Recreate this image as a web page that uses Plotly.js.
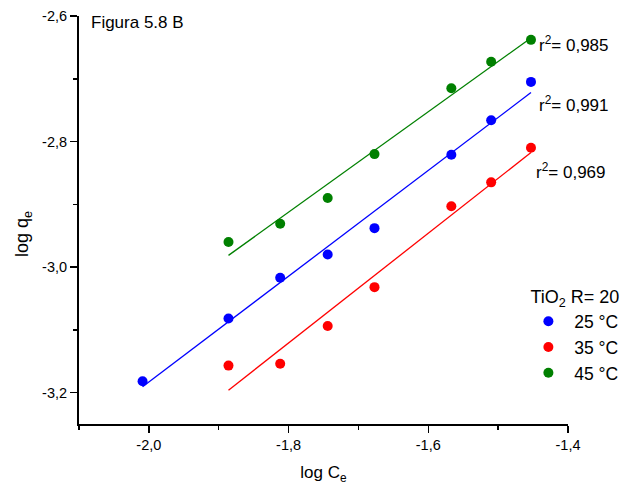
<!DOCTYPE html>
<html>
<head>
<meta charset="utf-8">
<script src="https://cdn.plot.ly/plotly-3.0.1.min.js"></script>
<style>html,body{margin:0;padding:0;background:#fff}#chart{width:635px;height:492px}</style>
</head>
<body>
<div id="chart"></div>
<script>
// Data
var logCe25 = [-2.009, -1.886, -1.812, -1.744, -1.677, -1.567, -1.510, -1.453];
var logQe25 = [-3.182, -3.082, -3.017, -2.980, -2.938, -2.821, -2.766, -2.705];
var logCe35 = [-1.886, -1.812, -1.744, -1.677, -1.567, -1.510, -1.453];
var logQe35 = [-3.157, -3.154, -3.094, -3.032, -2.903, -2.865, -2.810];
var logCe45 = [-1.886, -1.812, -1.744, -1.677, -1.567, -1.510, -1.453];
var logQe45 = [-2.960, -2.931, -2.890, -2.820, -2.715, -2.673, -2.638];
var seriesNames = ['25 °C', '35 °C', '45 °C'];
var r2Labels = ['r<sup>2</sup>= 0,991', 'r<sup>2</sup>= 0,969', 'r<sup>2</sup>= 0,985'];
var xTickVals = [-2.0, -1.8, -1.6, -1.4];
var xTickText = ['-2,0', '-1,8', '-1,6', '-1,4'];
var xMinorVals = [-2.1, -1.9, -1.7, -1.5];
var yTickVals = [-3.2, -3.0, -2.8, -2.6];
var yTickText = ['-3,2', '-3,0', '-2,8', '-2,6'];
var yMinorVals = [-3.1, -2.9, -2.7];

var colors = ['#0000ff', '#ff0000', '#008000'];
var xs = [logCe25, logCe35, logCe45];
var ys = [logQe25, logQe35, logQe45];

function fit(x, y) {
  var n = x.length, mx = 0, my = 0;
  for (var i = 0; i < n; i++) { mx += x[i]; my += y[i]; }
  mx /= n; my /= n;
  var sxy = 0, sxx = 0;
  for (var j = 0; j < n; j++) { sxy += (x[j]-mx)*(y[j]-my); sxx += (x[j]-mx)*(x[j]-mx); }
  var b = sxy / sxx, a = my - b*mx;
  var x0 = Math.min.apply(null, x), x1 = Math.max.apply(null, x);
  return {x: [x0, x1], y: [a + b*x0, a + b*x1]};
}

var FONT = '"Liberation Sans", Arial, sans-serif';
var traces = [];
for (var k = 0; k < 3; k++) {
  var f = fit(xs[k], ys[k]);
  traces.push({x: f.x, y: f.y, mode: 'lines', line: {color: colors[k], width: 1.3}, showlegend: false, hoverinfo: 'skip'});
}
for (var k2 = 0; k2 < 3; k2++) {
  traces.push({x: xs[k2], y: ys[k2], mode: 'markers', name: '\u2004' + seriesNames[k2],
    marker: {color: colors[k2], size: 10}});
}

var annYs = [-2.7405, -2.8474, -2.6447];
var annXs = [-1.4448, -1.449, -1.4448];
var annotations = [{
  text: 'Figura 5.8 B', xref: 'paper', yref: 'paper', x: 0.02, y: 0.985,
  xanchor: 'left', yanchor: 'middle', showarrow: false, font: {family: FONT, size: 17, color: '#000'}
}, {
  text: 'log q<sub>e</sub>', xref: 'paper', yref: 'paper', x: -0.1131, y: 0.465,
  xanchor: 'center', yanchor: 'middle', textangle: -90, showarrow: false,
  font: {family: FONT, size: 18, color: '#000'}
}];
for (var m = 0; m < 3; m++) {
  annotations.push({text: r2Labels[m], x: annXs[m], y: annYs[m], xref: 'x', yref: 'y',
    xanchor: 'left', yanchor: 'middle', showarrow: false, font: {family: FONT, size: 17, color: '#000'}});
}

var layout = {
  width: 635, height: 492,
  margin: {l: 79, r: 67, t: 16, b: 68},
  paper_bgcolor: '#fff', plot_bgcolor: '#fff',
  font: {family: FONT, color: '#000'},
  xaxis: {
    range: [-2.1, -1.4], tickmode: 'array', tickvals: xTickVals, ticktext: xTickText,
    ticks: 'outside', ticklen: 7, tickwidth: 1.5, tickcolor: '#000',
    minor: {tickmode: 'array', tickvals: xMinorVals, ticks: 'outside', ticklen: 4, tickwidth: 1.5, tickcolor: '#000'},
    showline: true, linecolor: '#000', linewidth: 2, showgrid: false, zeroline: false,
    tickfont: {family: FONT, size: 14.5, color: '#000'},
    title: {text: 'log C<sub>e</sub>', font: {family: FONT, size: 17, color: '#000'}, standoff: 14},
    automargin: false
  },
  yaxis: {
    range: [-3.25, -2.6], tickmode: 'array', tickvals: yTickVals, ticktext: yTickText,
    ticks: 'outside', ticklen: 7, tickwidth: 1.5, tickcolor: '#000',
    minor: {tickmode: 'array', tickvals: yMinorVals, ticks: 'outside', ticklen: 4, tickwidth: 1.5, tickcolor: '#000'},
    showline: true, linecolor: '#000', linewidth: 2, showgrid: false, zeroline: false,
    tickfont: {family: FONT, size: 14.5, color: '#000'},
    automargin: false
  },
  showlegend: true,
  legend: {
    x: 0.919, y: 0.353, xanchor: 'left', yanchor: 'top',
    bgcolor: 'rgba(0,0,0,0)', borderwidth: 0,
    font: {family: FONT, size: 17.5, color: '#000'},
    title: {text: 'TiO<sub>2</sub> R= 20', font: {family: FONT, size: 18, color: '#000'}},
    tracegroupgap: 0
  },
  annotations: annotations
};

Plotly.newPlot('chart', traces, layout, {displayModeBar: false, staticPlot: true});
</script>
</body>
</html>
